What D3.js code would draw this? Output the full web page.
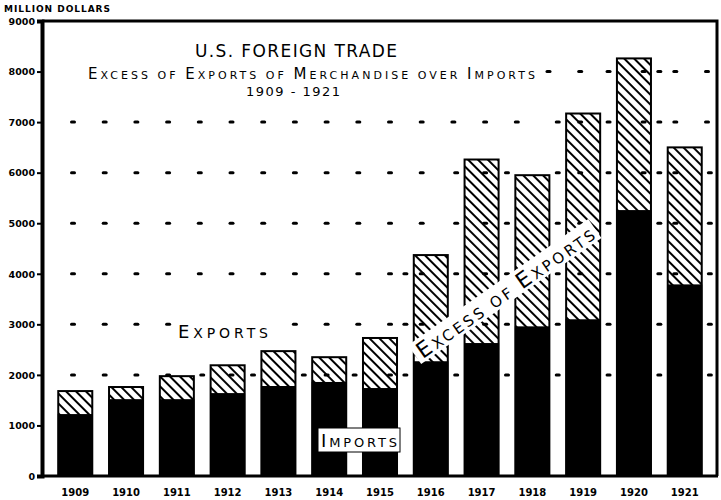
<!DOCTYPE html>
<html>
<head>
<meta charset="utf-8">
<script src="https://cdn.jsdelivr.net/npm/d3@7"></script>
<style>
  body { margin: 0; background: #fff; }
  svg { display: block; }
  text { font-family: "DejaVu Sans", sans-serif; fill: #000; }
</style>
</head>
<body>
<div id="chart"></div>
<script>
/* global d3 */

// values, million dollars
var years = [ "1909", "1910", "1911", "1912", "1913", "1914", "1915", "1916", "1917", "1918", "1919", "1920", "1921" ];
var exportsM = [ 1680, 1760, 1975, 2190, 2470, 2350, 2730, 4370, 6260, 5950, 7170, 8260, 6500 ];
var importsM = [ 1225, 1520, 1520, 1640, 1780, 1860, 1740, 2270, 2630, 2960, 3100, 5260, 3790 ];
var yTicks = [ 0, 1000, 2000, 3000, 4000, 5000, 6000, 7000, 8000, 9000 ];
var gridLevels = [ 2000, 3000, 4000, 5000, 6000, 7000, 8000 ];

var unitLabel = "MILLION DOLLARS";
var titleLines = [ "U.S. FOREIGN TRADE", "Excess of Exports of Merchandise over Imports", "1909 - 1921" ];
var exportsLabel = "Exports";
var importsLabel = "Imports";
var excessLabel = "Excess of Exports";

var width = 721,
  height = 500,
  plotLeft = 42,
  plotRight = 718,
  plotTop = 21,
  plotBottom = 476;

var data = years.map( function( y, i ) {
  return { year: y, exp: exportsM[ i ], imp: importsM[ i ] };
} );

var svg = d3.select( "#chart" ).append( "svg" )
  .attr( "width", width )
  .attr( "height", height );

var x = d3.scaleBand()
  .domain( years )
  .range( [ plotLeft, plotRight ] )
  .paddingInner( 0.33 )
  .paddingOuter( 0.32 );

var y = d3.scaleLinear()
  .domain( [ 0, 9000 ] )
  .range( [ plotBottom, plotTop ] );

// hatching for the excess of exports
var defs = svg.append( "defs" );
defs.append( "pattern" )
  .attr( "id", "hatch" )
  .attr( "patternUnits", "userSpaceOnUse" )
  .attr( "width", 7 )
  .attr( "height", 7 )
  .attr( "patternTransform", "rotate(-45)" )
  .append( "line" )
    .attr( "x1", 1 ).attr( "y1", -1 )
    .attr( "x2", 1 ).attr( "y2", 8 )
    .attr( "stroke", "#000" )
    .attr( "stroke-width", 2 );

// small caps: capitals big, lower case letters small
function smallCaps( sel, str, big, small ) {
  str.split( "" ).forEach( function( c ) {
    var isBig = c !== c.toLowerCase() || /[0-9.\-]/.test( c );
    sel.append( "tspan" )
      .style( "font-size", ( isBig ? big : small ) + "px" )
      .text( c.toUpperCase() );
  } );
  return sel;
}

// dotted guide lines: regular dashes; where bars rise past a line,
// the dash sits in the middle of the gap between them
var bw = x.bandwidth();
var gaps = years.map( function( yr, i ) {
  var end = x( yr ) + bw;
  var next = i < years.length - 1 ? x( years[ i + 1 ] ) : plotRight;
  var tall = Math.max( exportsM[ i ], i < years.length - 1 ? exportsM[ i + 1 ] : 0 );
  return { x: ( end + next ) / 2, tall: tall };
} );
var gridX = d3.range( 73, 715, 31.7 );

var dashes = [];
gridLevels.forEach( function( v ) {
  var active = gaps.filter( function( g ) { return g.tall > v; } );
  gridX.forEach( function( dx ) {
    var near = active.some( function( g ) { return Math.abs( g.x - dx ) <= 14; } );
    if ( !near ) dashes.push( { x: dx, v: v } );
  } );
  active.forEach( function( g ) { dashes.push( { x: g.x, v: v } ); } );
} );

svg.append( "g" ).selectAll( "rect" )
  .data( dashes )
  .enter().append( "rect" )
    .attr( "x", function( d ) { return d.x - 3; } )
    .attr( "y", function( d ) { return y( d.v ) - 1.5; } )
    .attr( "width", 6 )
    .attr( "height", 3 )
    .attr( "rx", 1.5 )
    .attr( "fill", "#000" );

// title block on white
svg.append( "rect" )
  .attr( "x", 60 ).attr( "y", 38 )
  .attr( "width", 482 ).attr( "height", 64 )
  .attr( "fill", "#fff" );

svg.append( "text" )
  .attr( "x", 296 ).attr( "y", 57 )
  .attr( "text-anchor", "middle" )
  .attr( "textLength", 202 )
  .style( "font-size", "17px" )
  .text( titleLines[ 0 ] );

smallCaps( svg.append( "text" )
  .attr( "x", 88 ).attr( "y", 79 )
  .attr( "textLength", 447 )
  .attr( "lengthAdjust", "spacing" ), titleLines[ 1 ], 15, 11 );

svg.append( "text" )
  .attr( "x", 293 ).attr( "y", 96 )
  .attr( "text-anchor", "middle" )
  .attr( "textLength", 94 )
  .style( "font-size", "13px" )
  .text( titleLines[ 2 ] );

// "Exports" label
svg.append( "rect" )
  .attr( "x", 175 ).attr( "y", y( 3000 ) - 12 )
  .attr( "width", 97 ).attr( "height", 24 )
  .attr( "fill", "#fff" );
smallCaps( svg.append( "text" )
  .attr( "x", 178 ).attr( "y", 338 )
  .attr( "textLength", 90 )
  .attr( "lengthAdjust", "spacing" ), exportsLabel, 18, 14 );

// bars
var bars = svg.append( "g" ).selectAll( "g" )
  .data( data )
  .enter().append( "g" );

bars.append( "rect" )
  .attr( "x", function( d ) { return x( d.year ); } )
  .attr( "y", function( d ) { return y( d.exp ); } )
  .attr( "width", bw )
  .attr( "height", function( d ) { return plotBottom - y( d.exp ); } )
  .attr( "fill", "url(#hatch)" )
  .attr( "stroke", "#000" )
  .attr( "stroke-width", 2 );

bars.append( "rect" )
  .attr( "x", function( d ) { return x( d.year ) - 0.5; } )
  .attr( "y", function( d ) { return y( d.imp ); } )
  .attr( "width", bw + 1 )
  .attr( "height", function( d ) { return plotBottom - y( d.imp ); } )
  .attr( "fill", "#000" );

// "Imports" label box
svg.append( "rect" )
  .attr( "x", 318 ).attr( "y", 428 )
  .attr( "width", 82 ).attr( "height", 24 )
  .attr( "fill", "#fff" )
  .attr( "stroke", "#000" )
  .attr( "stroke-width", 1 );
smallCaps( svg.append( "text" )
  .attr( "x", 321 ).attr( "y", 447 )
  .attr( "textLength", 76 )
  .attr( "lengthAdjust", "spacing" ), importsLabel, 18, 13 );

// "Excess of exports" running up across the war years
var ex = svg.append( "g" )
  .attr( "transform", "translate(505,292) rotate(-35)" );
ex.append( "rect" )
  .attr( "x", -110 ).attr( "y", -12 )
  .attr( "width", 220 ).attr( "height", 23 )
  .attr( "fill", "#fff" );
smallCaps( ex.append( "text" )
  .attr( "x", -106 ).attr( "y", 8 )
  .attr( "textLength", 212 )
  .attr( "lengthAdjust", "spacing" ), excessLabel, 22, 15 );

// frame
svg.append( "path" )
  .attr( "d", "M" + plotLeft + "," + plotTop + "H" + ( plotRight - 1 ) + "V" + plotBottom )
  .attr( "fill", "none" )
  .attr( "stroke", "#000" )
  .attr( "stroke-width", 3 );

svg.append( "line" )
  .attr( "x1", plotLeft ).attr( "x2", plotRight )
  .attr( "y1", plotBottom ).attr( "y2", plotBottom )
  .attr( "stroke", "#000" )
  .attr( "stroke-width", 3 );

// y axis
var yAxis = svg.append( "g" )
  .attr( "transform", "translate(" + plotLeft + ",0)" )
  .call( d3.axisLeft( y ).tickValues( yTicks ).tickFormat( d3.format( "d" ) ).tickSize( 5 ).tickPadding( 2 ) );
yAxis.select( ".domain" )
  .attr( "stroke-width", 4 );
yAxis.selectAll( ".tick line" ).attr( "stroke-width", 2 );
yAxis.selectAll( "text" )
  .style( "font-size", "9.5px" )
  .style( "font-weight", "bold" )
  .attr( "dy", "0.35em" );

// x axis labels
svg.append( "g" ).selectAll( "text" )
  .data( years )
  .enter().append( "text" )
    .attr( "x", function( d ) { return x( d ) + bw / 2; } )
    .attr( "y", 496 )
    .attr( "text-anchor", "middle" )
    .style( "font-size", "10px" )
    .style( "font-weight", "bold" )
    .text( function( d ) { return d; } );

svg.append( "text" )
  .attr( "x", 4 ).attr( "y", 12 )
  .attr( "textLength", 106 )
  .style( "font-size", "9px" )
  .style( "font-weight", "bold" )
  .text( unitLabel );
</script>
</body>
</html>
